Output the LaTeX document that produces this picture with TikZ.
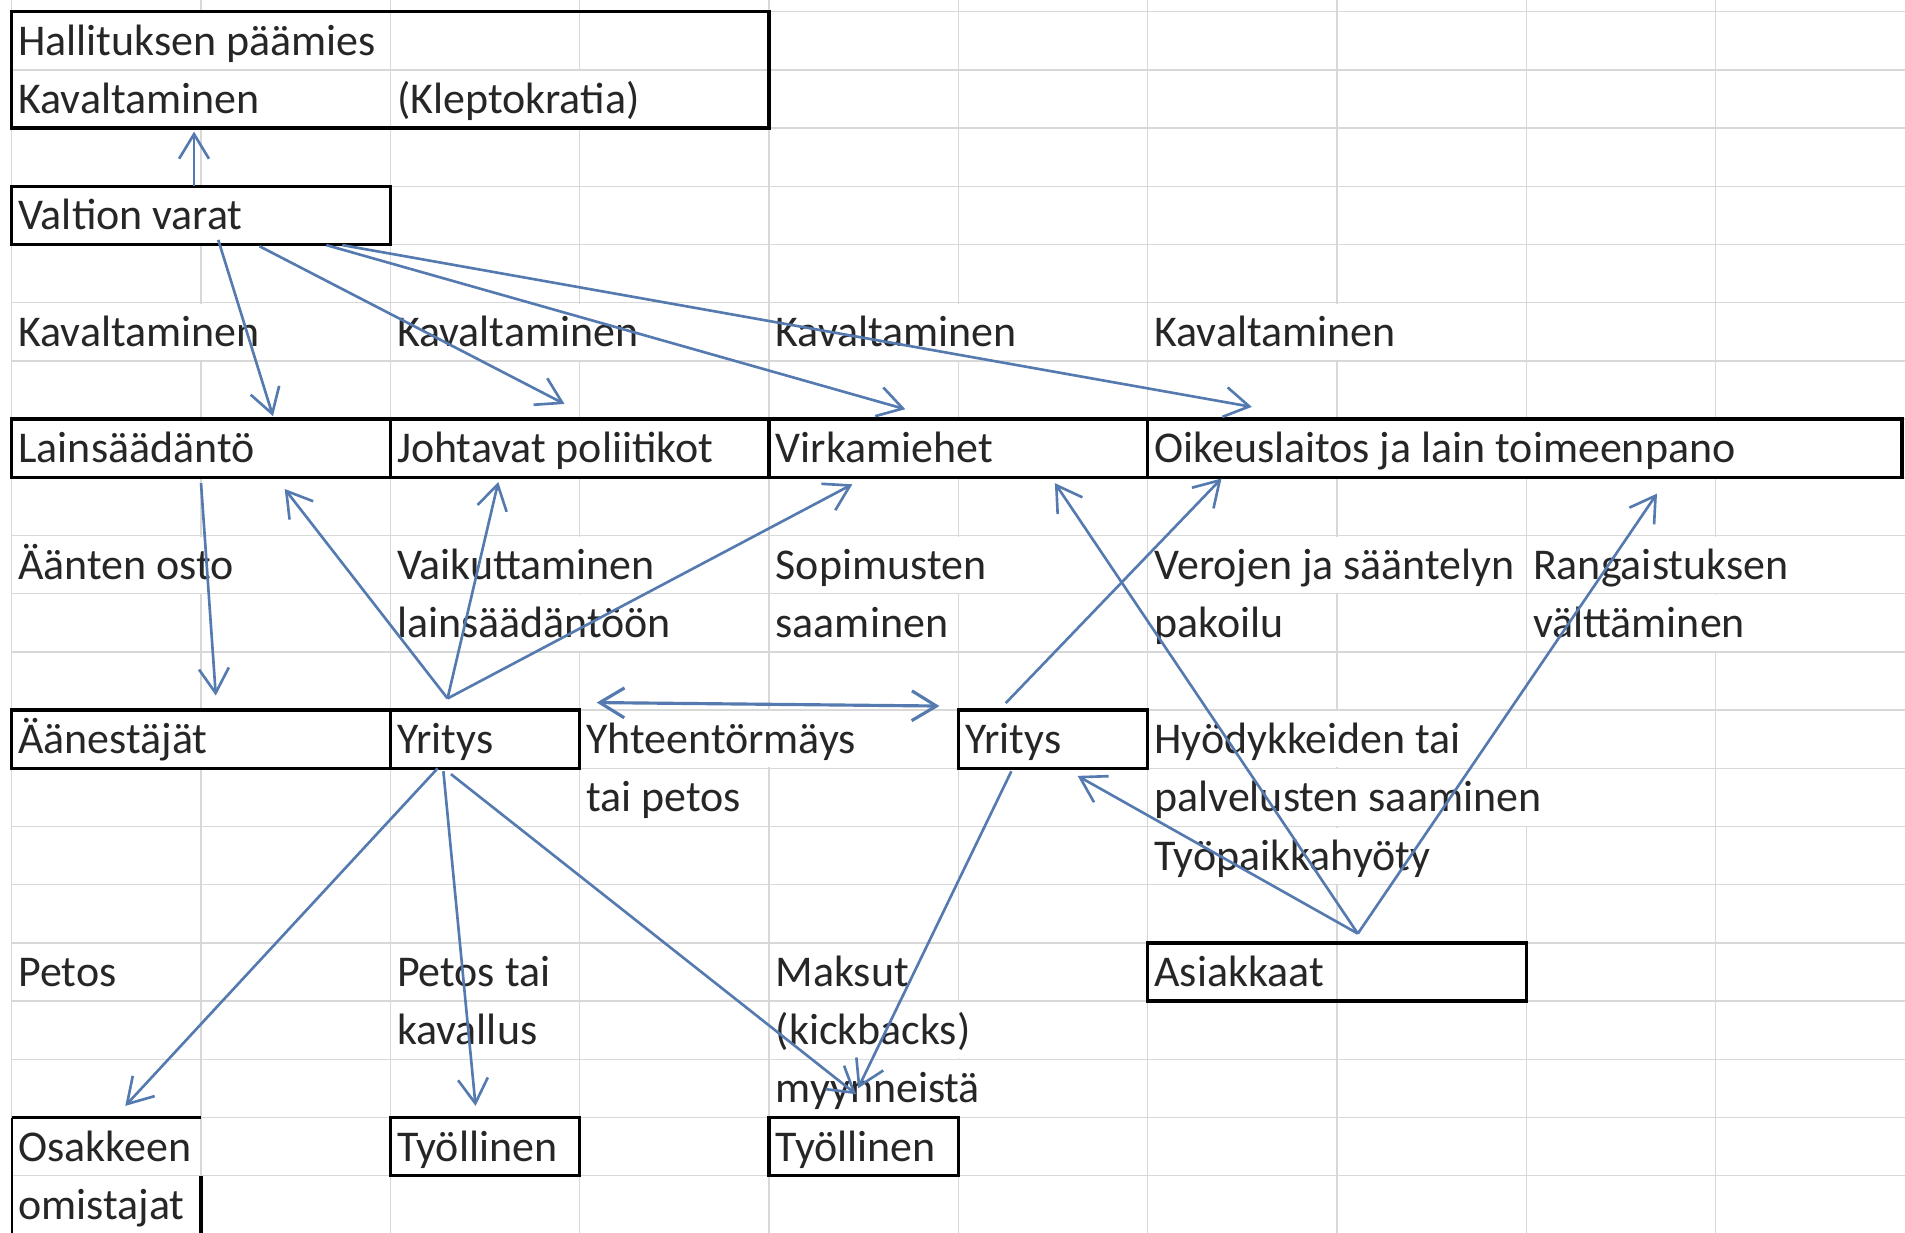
\documentclass[tikz,border=0pt]{standalone}
\usepackage{fontspec}
\setmainfont{Carlito}
\usetikzlibrary{arrows.meta,calc}
\definecolor{xl_blue}{RGB}{84,122,176}
\definecolor{xl_grid}{RGB}{216,216,216}
\newcommand{\colw}{1.8933cm}
\newcommand{\rowh}{0.582cm}
\tikzstyle{gridline}=[draw=xl_grid,line width=0.4pt]
\tikzstyle{cell}=[anchor=base west,fill=white,inner xsep=0.04cm,inner ysep=0pt,
  text height=12.1pt,text depth=3.9pt,xshift=0.02cm,yshift=-0.4365cm,
  font=\fontsize{12.5}{15}\selectfont,text=black!85]
\tikzstyle{box}=[draw=black,line width=1pt,anchor=north west,inner sep=0pt,
  outer sep=0pt,minimum height=\rowh]
\tikzstyle{arr}=[draw=xl_blue,line width=0.75pt,-{Straight Barb[length=7pt,width=8.5pt]}]
\tikzstyle{darr}=[draw=xl_blue,line width=0.9pt,
  {Straight Barb[length=7pt,width=8.5pt]}-{Straight Barb[length=7pt,width=8.5pt]}]

\begin{document}
\begin{tikzpicture}[x=1.8933cm, y=-0.582cm]
    \useasboundingbox (-0.0618,-0.201) rectangle (10,20.98);
    \foreach \c in {0,...,9} \draw[gridline] (\c,-0.201) -- (\c,20.98);
    \foreach \r in {0,...,20} \draw[gridline] (0,\r) -- (10,\r);

    \node [cell] (hp1) at (0,0) {Hallituksen päämies};
    \node [cell] (hp2) at (0,1) {Kavaltaminen};
    \node [cell] (hp3) at (2,1) {(Kleptokratia)};
    \node [cell] (vv1) at (0,3) {Valtion varat};
    \node [cell] (k1) at (0,5) {Kavaltaminen};
    \node [cell] (k2) at (2,5) {Kavaltaminen};
    \node [cell] (k3) at (4,5) {Kavaltaminen};
    \node [cell] (k4) at (6,5) {Kavaltaminen};
    \node [cell] (ls1) at (0,7) {Lainsäädäntö};
    \node [cell] (jp1) at (2,7) {Johtavat poliitikot};
    \node [cell] (vm1) at (4,7) {Virkamiehet};
    \node [cell] (ol1) at (6,7) {Oikeuslaitos ja lain toimeenpano};
    \node [cell] (ao) at (0,9) {Äänten osto};
    \node [cell] (vl1) at (2,9) {Vaikuttaminen};
    \node [cell] (vl2) at (2,10) {lainsäädäntöön};
    \node [cell] (ss1) at (4,9) {Sopimusten};
    \node [cell] (ss2) at (4,10) {saaminen};
    \node [cell] (vp1) at (6,9) {Verojen ja sääntelyn};
    \node [cell] (vp2) at (6,10) {pakoilu};
    \node [cell] (rv1) at (8,9) {Rangaistuksen};
    \node [cell] (rv2) at (8,10) {välttäminen};
    \node [cell] (ae1) at (0,12) {Äänestäjät};
    \node [cell] (y1t) at (2,12) {Yritys};
    \node [cell] (yp1) at (3,12) {Yhteentörmäys};
    \node [cell] (yp2) at (3,13) {tai petos};
    \node [cell] (y2t) at (5,12) {Yritys};
    \node [cell] (hy1) at (6,12) {Hyödykkeiden tai};
    \node [cell] (hy2) at (6,13) {palvelusten saaminen};
    \node [cell] (hy3) at (6,14) {Työpaikkahyöty};
    \node [cell] (p1) at (0,16) {Petos};
    \node [cell] (pk1) at (2,16) {Petos tai};
    \node [cell] (pk2) at (2,17) {kavallus};
    \node [cell] (mk1) at (4,16) {Maksut};
    \node [cell] (mk2) at (4,17) {(kickbacks)};
    \node [cell] (mk3) at (4,18) {myynneistä};
    \node [cell] (as1) at (6,16) {Asiakkaat};
    \node [cell] (oo1) at (0,19) {Osakkeen};
    \node [cell] (oo2) at (0,20) {omistajat};
    \node [cell] (t1t) at (2,19) {Työllinen};
    \node [cell] (t2t) at (4,19) {Työllinen};

    \node [box, minimum width=4*\colw, minimum height=2*\rowh] (hp) at (0,0) {};
    \node [box, minimum width=2*\colw] (vv) at (0,3) {};
    \node [box, minimum width=2*\colw] (ls) at (0,7) {};
    \node [box, minimum width=2*\colw] (jp) at (2,7) {};
    \node [box, minimum width=2*\colw] (vm) at (4,7) {};
    \node [box, minimum width=3.985*\colw] (ol) at (6,7) {};
    \node [box, minimum width=2*\colw] (ae) at (0,12) {};
    \node [box, minimum width=\colw] (y1) at (2,12) {};
    \node [box, minimum width=\colw] (y2) at (5,12) {};
    \node [box, minimum width=2*\colw] (as) at (6,16) {};
    \node [box, minimum width=\colw] (t1) at (2,19) {};
    \node [box, minimum width=\colw] (t2) at (4,19) {};
    \node [box, draw=none, minimum width=\colw, minimum height=2*\rowh] (oo) at (0,19) {};
    \draw [line width=0.6pt] (oo.south west) -- (oo.north west);
    \draw [line width=1pt] (oo.north west) -- (oo.north east);
    \draw [line width=1pt] (oo.east) -- (oo.south east);

    \draw [arr] ($(vv.north west)+(0.963,0)$) -- ($(hp.south west)+(0.963,0.06)$);
    \draw [arr] ($(vv.south west)+(1.091,-0.08)$) -- ($(ls.north west)+(1.38,-0.05)$);
    \draw [arr] ($(vv.south west)+(1.309,0.03)$) -- ($(jp.north west)+(0.92,-0.26)$);
    \draw [arr] ($(vv.south west)+(1.662,0.01)$) -- ($(vm.north west)+(0.72,-0.17)$);
    \draw [arr] ($(vv.south west)+(1.746,0.01)$) -- ($(ol.north west)+(0.55,-0.21)$);
    \draw [arr] ($(ls.south west)+(1.0,0.1)$) -- ($(ae.north west)+(1.078,-0.25)$);
    \draw [arr] ($(y1.north west)+(0.302,-0.2)$) -- ($(ls.south west)+(1.442,0.2)$);
    \draw [arr] ($(y1.north west)+(0.302,-0.2)$) -- ($(jp.south west)+(0.57,0.08)$);
    \draw [arr] ($(y1.north west)+(0.302,-0.2)$) -- ($(vm.south west)+(0.44,0.12)$);
    \draw [darr] ($(y1.north east)+(0.09,-0.13)$) -- ($(y2.north west)+(-0.1,-0.07)$);
    \draw [arr] ($(y1.south west)+(0.25,0)$) -- ($(oo.north west)+(0.6,-0.2)$);
    \draw [arr] ($(y1.south west)+(0.28,0.05)$) -- ($(t1.north west)+(0.45,-0.2)$);
    \draw [arr] ($(y1.south west)+(0.32,0.1)$) -- ($(t2.north west)+(0.46,-0.4)$);
    \draw [arr] ($(y2.south west)+(0.28,0.05)$) -- ($(t2.north west)+(0.47,-0.5)$);
    \draw [arr] ($(y2.north west)+(0.25,-0.12)$) -- ($(ol.south west)+(0.39,0.02)$);
    \draw [arr] ($(as.north west)+(1.11,-0.16)$) -- ($(vm.south west)+(1.51,0.1)$);
    \draw [arr] ($(as.north west)+(1.11,-0.16)$) -- ($(ol.south west)+(2.69,0.28)$);
    \draw [arr] ($(as.north west)+(1.11,-0.16)$) -- ($(y2.south west)+(0.63,0.13)$);
\end{tikzpicture}
\end{document}
